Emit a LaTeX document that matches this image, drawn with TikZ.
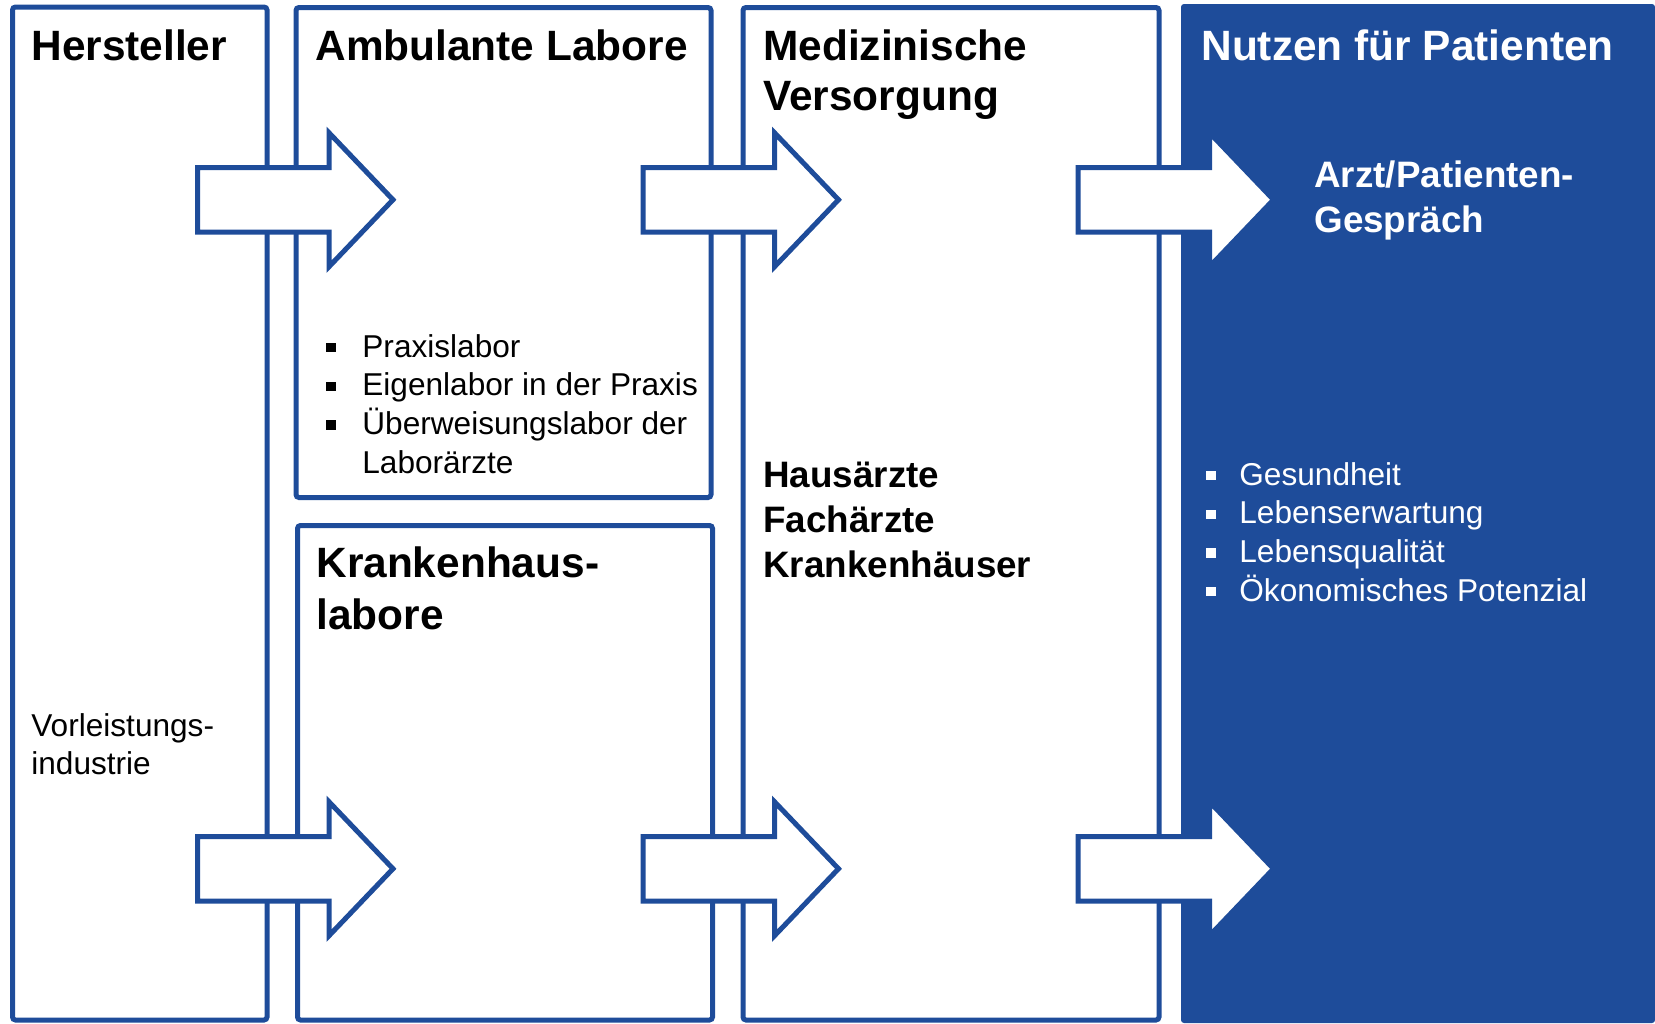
\documentclass[tikz,border=0pt]{standalone}
\usepackage{fontspec}
\setmainfont{Liberation Sans}
\usetikzlibrary{positioning}
\definecolor{chartblue}{RGB}{30,76,154}

\tikzset{
  panel/.style={draw=chartblue, line width=2.5pt, rounded corners=1.5pt, fill=white},
  flowarrow/.style={draw=chartblue, line width=2.5pt, fill=white, miter limit=10},
  headtxt/.style={anchor=base west, inner sep=0pt, font=\fontsize{21.2}{26}\selectfont\bfseries},
  subtxt/.style={anchor=base west, inner sep=0pt, font=\fontsize{18.4}{22.5}\selectfont\bfseries},
  itemtxt/.style={anchor=base west, inner sep=0pt, font=\fontsize{15.8}{19.4}\selectfont},
  bulletsq/.style={fill, minimum size=4.6pt, inner sep=0pt}
}

\begin{document}
\begin{tikzpicture}[x=0.5pt,y=-0.5pt]
\useasboundingbox (0,0) rectangle (1655,1023);

% columns
\draw[panel] (12.5,7) rectangle (267,1020);
\draw[panel] (296,7.5) rectangle (711,497.5);
\draw[panel] (297.5,525.5) rectangle (712.5,1020);
\draw[panel] (743,7.5) rectangle (1159,1020);
\fill[chartblue, rounded corners=1.5pt] (1181,4) -- (1655,4) -- (1655,1023) -- (1181,1023) -- cycle;

% arrows between the columns
\foreach \dx/\cy in {0/199.75, 445.5/199.75, 880.5/199.75,
                     0/868.75, 445.5/868.75, 880.5/868.75}
{
  \draw[flowarrow, shift={(\dx,\cy)}]
    (197.5,-32.25) -- (329,-32.25) -- (329,-67) -- (393,0)
    -- (329,67) -- (329,32.25) -- (197.5,32.25) -- cycle;
}

% headings
\node[headtxt] (hersteller) at (31,60) {Hersteller};
\node[headtxt] (ambulante) at (315,60) {Ambulante Labore};
\node[headtxt] (med1) at (763,60) {Medizinische};
\node[headtxt] (med2) at (763,110) {Versorgung};
\node[headtxt, text=white] (nutzen) at (1201,60) {Nutzen für Patienten};
\node[headtxt] (kh1) at (316,577) {Krankenhaus-};
\node[headtxt] (kh2) at (316,629) {labore};

% bold sub texts
\node[subtxt, text=white] (arzt1) at (1314,187) {Arzt/Patienten-};
\node[subtxt, text=white] (arzt2) at (1314,232) {Gespräch};
\foreach \t [count=\i from 0] in {Hausärzte, Fachärzte, Krankenhäuser}
  \node[subtxt] (versorger-\i) at (763,{487+45*\i}) {\t};

% lists
\foreach \t [count=\i from 0] in {Praxislabor, Eigenlabor in der Praxis, Überweisungslabor der}
{
  \node[bulletsq] (ambsq-\i) at (331,{347.5+38.7*\i}) {};
  \node[itemtxt] (amb-\i) at (362,{357+38.7*\i}) {\t};
}
\node[itemtxt] (amb-3) at (362,473) {Laborärzte};

\foreach \t [count=\i from 0] in {Gesundheit, Lebenserwartung, Lebensqualität, Ökonomisches Potenzial}
{
  \node[bulletsq, fill=white] (nutzsq-\i) at (1211,{475.5+38.7*\i}) {};
  \node[itemtxt, text=white] (nutz-\i) at (1239,{485+38.7*\i}) {\t};
}

\node[itemtxt] (vor1) at (31,736) {Vorleistungs-};
\node[itemtxt] (vor2) at (31,774) {industrie};
\end{tikzpicture}
\end{document}
